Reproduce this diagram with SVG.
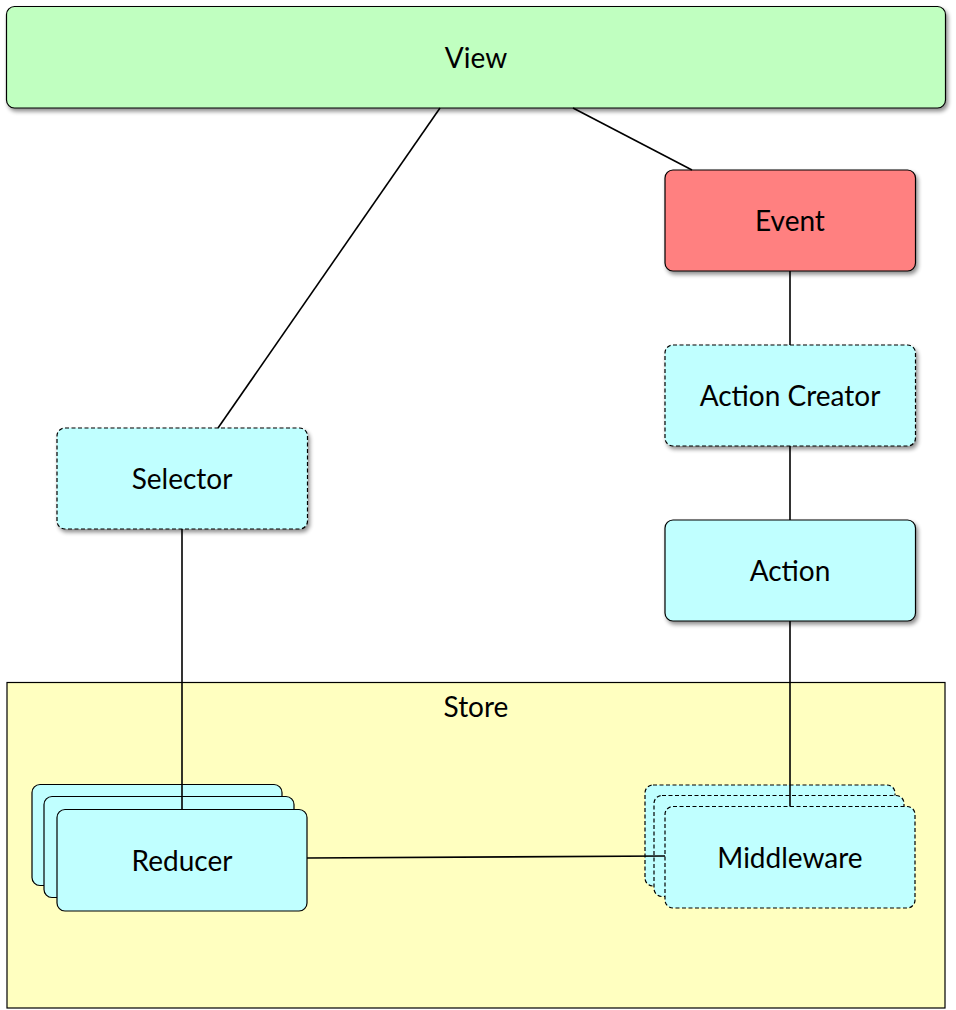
<svg xmlns="http://www.w3.org/2000/svg" width="956" height="1010" viewBox="0 0 956 1010">
<defs>
<filter id="sh" x="-10%" y="-10%" width="130%" height="140%">
<feGaussianBlur in="SourceAlpha" stdDeviation="2"/>
<feOffset dx="2" dy="3"/>
<feComponentTransfer><feFuncA type="linear" slope="0.45"/></feComponentTransfer>
<feMerge><feMergeNode/><feMergeNode in="SourceGraphic"/></feMerge>
</filter>
</defs>
<style>
.n{stroke:#000;stroke-width:1.2}
.d{stroke-dasharray:4 2.5}
.cy{fill:#c0ffff}
.t{font-family:"Lato","Open Sans",sans-serif;font-size:28px;fill:#000;text-anchor:middle}
.c{stroke:#000;stroke-width:1.6;fill:none}
</style>
<rect width="956" height="1010" fill="#fff"/>
<g id="store">
<rect x="7" y="682.5" width="938" height="325.5" fill="#ffffc0" stroke="#000" stroke-width="1.2"/>
<text class="t" x="476" y="717">Store</text>
</g>
<g id="view">
<rect class="n" x="6.5" y="6.5" width="939" height="101.5" rx="8" fill="#c0ffc0" filter="url(#sh)"/>
<text class="t" x="476" y="68">View</text>
</g>
<g id="event">
<rect class="n" x="665" y="170" width="250.5" height="101" rx="8" fill="#ff8080" filter="url(#sh)"/>
<text class="t" x="790" y="231">Event</text>
</g>
<g id="action-creator">
<rect class="n d cy" x="665" y="345" width="250.5" height="101" rx="8" filter="url(#sh)"/>
<text class="t" x="790" y="406">Action Creator</text>
</g>
<g id="action">
<rect class="n cy" x="665" y="520" width="250.5" height="101" rx="8" filter="url(#sh)"/>
<text class="t" x="790" y="581">Action</text>
</g>
<g id="selector">
<rect class="n d cy" x="57" y="428" width="250.5" height="101" rx="8" filter="url(#sh)"/>
<text class="t" x="182" y="489">Selector</text>
</g>
<g id="reducer">
<rect class="n cy" x="32" y="784.5" width="250" height="101" rx="8"/>
<rect class="n cy" x="44" y="796.5" width="250" height="101" rx="8"/>
<rect class="n cy" x="57" y="809.5" width="250" height="101.5" rx="8"/>
<text class="t" x="182" y="871">Reducer</text>
</g>
<g id="middleware">
<rect class="n d cy" x="645" y="785" width="250" height="101" rx="8"/>
<rect class="n d cy" x="654" y="795.5" width="250" height="101" rx="8"/>
<rect class="n d cy" x="665" y="806.5" width="250" height="101.5" rx="8"/>
<text class="t" x="790" y="868">Middleware</text>
</g>
<g id="connectors">
<line class="c" x1="440" y1="108" x2="218" y2="428"/>
<line class="c" x1="573" y1="108" x2="692" y2="170"/>
<line class="c" x1="790" y1="271" x2="790" y2="345"/>
<line class="c" x1="790" y1="446" x2="790" y2="520"/>
<line class="c" x1="790" y1="621" x2="790" y2="806.5"/>
<line class="c" x1="182" y1="529" x2="182" y2="809.5"/>
<line class="c" x1="307" y1="858" x2="665" y2="856"/>
</g>
</svg>
